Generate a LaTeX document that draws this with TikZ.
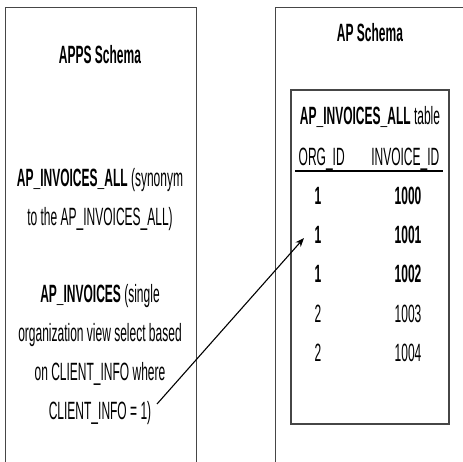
\documentclass[tikz,border=0pt]{standalone}
\usepackage{fontspec}
\setmainfont{Liberation Sans}[FakeStretch=0.48]
\usetikzlibrary{arrows.meta}

\definecolor{frame}{RGB}{70,70,70}

\tikzset{
  txt/.style={anchor=base, align=center, font=\fontsize{25}{39}\selectfont},
  head/.style={txt, font=\fontsize{25}{39}\selectfont\bfseries},
}

\begin{document}
\begin{tikzpicture}[x=1pt, y=-1pt, thick]
  \useasboundingbox (0,0) rectangle (463,462);

  % ---------------- APPS schema ----------------
  \draw[frame, semithick] (5,462) -- (5,7) -- (196,7) -- (196,462);
  \node[head] (apps) at (100,64) {APPS Schema};
  % base of a two-line node is its last line
  \node[txt] (syn) at (100,226)
    {\textbf{AP\_INVOICES\_ALL} (synonym\\to the AP\_INVOICES\_ALL)};
  \node[txt] (view) at (100,419)
    {\textbf{AP\_INVOICES} (single\\organization view select based\\on CLIENT\_INFO where\\CLIENT\_INFO = 1)};
  \coordinate (viewend) at (157,404);

  % ---------------- AP schema ----------------
  \draw[frame, semithick] (275,462) -- (275,7) -- (463,7);
  \node[head] (ap) at (370,42) {AP Schema};
  % the table
  \draw[frame, line width=1.3pt] (291,90) rectangle (449,424);
  \node[txt] (tab) at (370,125) {\textbf{AP\_INVOICES\_ALL} table};
  \node[txt, anchor=base west] (orgid) at (295,166) {ORG\_ID};
  \node[txt, anchor=base east] (invid) at (443,166) {INVOICE\_ID};
  \draw[line width=1.6pt] (orgid.base west) ++(0,5) -- ([yshift=-5pt]invid.base east);
  % rows: the first three belong to org 1
  \foreach \org/\inv/\y/\f in {1/1000/205/\bfseries, 1/1001/244/\bfseries,
                               1/1002/283/\bfseries, 2/1003/322/, 2/1004/361/} {
    \node[txt] (org\inv) at (318,\y) {\f\org};
    \node[txt] (inv\inv) at (408,\y) {\f\inv};
  }
  \coordinate (rowtip) at (304,238);

  % the view selects the org 1 rows
  \draw[-{Stealth[length=9pt, width=7pt]}, line width=1.1pt] (viewend) -- (rowtip);

\end{tikzpicture}
\end{document}
